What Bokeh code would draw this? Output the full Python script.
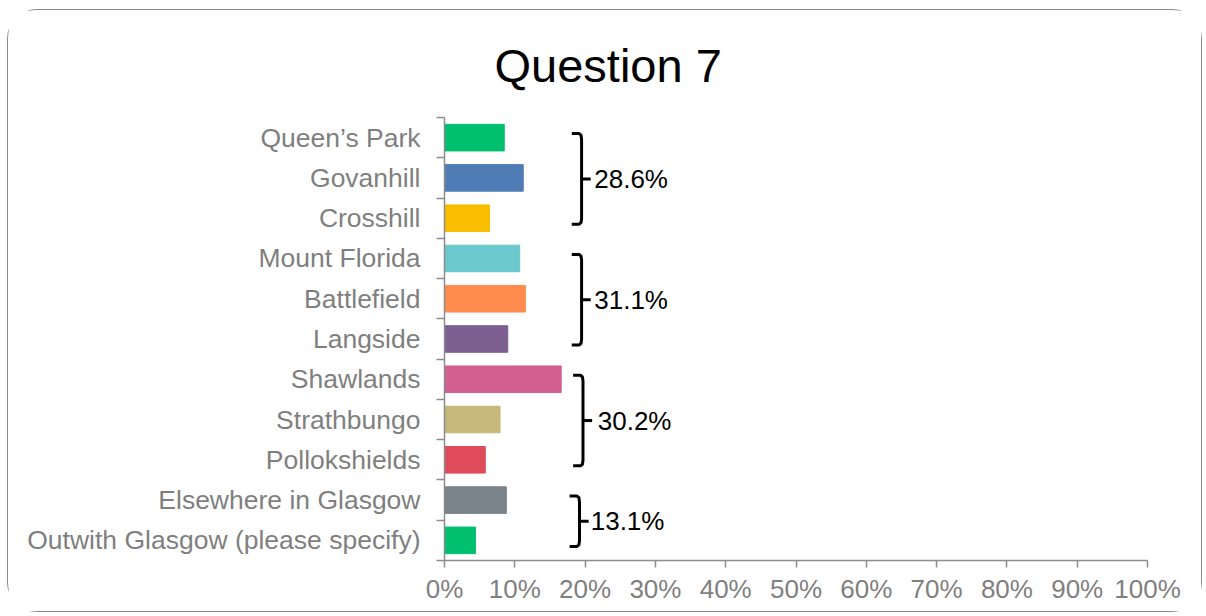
from bokeh.plotting import figure
from bokeh.models import Range1d, FixedTicker, ColumnDataSource, Label
from bokeh.embed import file_html
from bokeh.resources import INLINE

# ---- data ----
title_text = "Question 7"
categories = ["Queen\u2019s Park", "Govanhill", "Crosshill", "Mount Florida", "Battlefield",
              "Langside", "Shawlands", "Strathbungo", "Pollokshields",
              "Elsewhere in Glasgow", "Outwith Glasgow (please specify)"]
values = [8.5, 11.2, 6.4, 10.7, 11.5, 9.0, 16.6, 7.9, 5.8, 8.8, 4.4]
colors = ["#00BF6F", "#507CB6", "#F9BE00", "#6BC8CD", "#FF8B4F", "#7D5E90",
          "#D25F90", "#C6B879", "#DF4B5B", "#7B848B", "#00BF6F"]
group_labels = ["28.6%", "31.1%", "30.2%", "13.1%"]
group_rows = [(0, 3), (3, 6), (6, 9), (9, 11)]
x_ticks = [0, 10, 20, 30, 40, 50, 60, 70, 80, 90, 100]

# ---- layout settings ----
bracket_x = [19.5, 19.5, 19.7, 19.2]
label_x = [21.3, 21.3, 21.8, 20.8]
FONT = "Liberation Sans"
GRAY = "#7f7f7f"
AXIS = "#8c8c8c"

n = len(categories)
centers = [i + 0.5 for i in range(n)]

p = figure(width=1195, height=603, output_backend="svg", toolbar_location=None,
           x_range=Range1d(0, 100), y_range=Range1d(n, 0),
           min_border_left=436, min_border_right=56, min_border_top=107, min_border_bottom=53,
           title=title_text)
p.styles = {"border": "1.5px solid #8c8c8c", "border-radius": "30px",
            "margin-left": "7px", "margin-top": "9px"}
p.outline_line_color = None
p.xgrid.visible = False
p.ygrid.visible = False

p.title.text_font = FONT
p.title.text_font_size = "47px"
p.title.text_font_style = "normal"
p.title.text_color = "#000000"
p.title.align = "left"
p.title.offset = 50
p.title.standoff = 52

src = ColumnDataSource(dict(y=centers, right=values, color=colors))
p.hbar(y="y", left=0, right="right", height=0.66, color="color", source=src)

# brackets
for (a, b), bx, lx, txt in zip(group_rows, bracket_x, label_x, group_labels):
    top = a + 0.4
    bot = b - 0.35
    mid = (top + bot) / 2
    hook = 1.4
    xs = [bx - hook, bx - 0.35, bx - 0.08, bx, bx, bx - 0.08, bx - 0.35, bx - hook]
    ys = [top, top, top + 0.04, top + 0.14, bot - 0.14, bot - 0.04, bot, bot]
    p.line(xs, ys, line_color="black", line_width=3, line_join="round")
    p.line([bx, bx + 1.3], [mid, mid], line_color="black", line_width=3)
    p.add_layout(Label(x=lx, y=mid, text=txt, text_font=FONT, text_font_size="26px",
                       text_color="black", text_baseline="middle", text_align="left"))

# x axis
xa = p.xaxis[0]
xa.ticker = FixedTicker(ticks=x_ticks)
xa.major_label_overrides = {t: f"{t}%" for t in x_ticks}
xa.axis_line_color = AXIS
xa.axis_line_width = 1.5
xa.major_tick_line_color = AXIS
xa.major_tick_line_width = 1.5
xa.major_tick_out = 7
xa.major_tick_in = 0
xa.minor_tick_line_color = None
xa.major_label_text_font = FONT
xa.major_label_text_font_size = "26px"
xa.major_label_text_color = GRAY
xa.major_label_standoff = 6

# y axis
ya = p.yaxis[0]
ya.ticker = FixedTicker(ticks=centers, minor_ticks=list(range(n + 1)))
ya.major_label_overrides = {c: lab for c, lab in zip(centers, categories)}
ya.axis_line_color = AXIS
ya.axis_line_width = 1.5
ya.major_tick_line_color = None
ya.major_tick_out = 0
ya.major_tick_in = 0
ya.minor_tick_line_color = AXIS
ya.minor_tick_line_width = 1.5
ya.minor_tick_out = 8
ya.minor_tick_in = 0
ya.major_label_text_font = FONT
ya.major_label_text_font_size = "26.5px"
ya.major_label_text_color = GRAY
ya.major_label_standoff = 16

open("out.html", "w").write(file_html(p, INLINE))
